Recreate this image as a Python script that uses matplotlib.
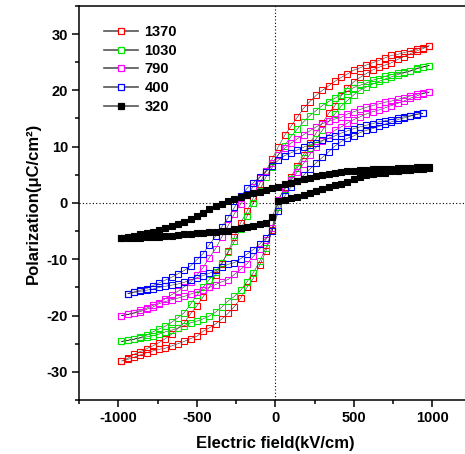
import matplotlib
matplotlib.use("Agg")
import matplotlib.pyplot as plt
from matplotlib.lines import Line2D
from matplotlib.ticker import MultipleLocator

plt.rcParams['font.family'] = ['Liberation Sans', 'DejaVu Sans']
plt.rcParams['font.weight'] = 'bold'
plt.rcParams['axes.unicode_minus'] = False

# -----------------------------
# DATA
# -----------------------------

# field points (kV/cm), same for each branch
e_field = [-980, -940, -900, -860, -820, -780, -740, -700, -660, -620,
           -580, -540, -500, -460, -420, -380, -340, -300, -260, -220,
           -180, -140, -100, -60, -20, 20, 60, 100, 140, 180,
           220, 260, 300, 340, 380, 420, 460, 500, 540, 580,
           620, 660, 700, 740, 780, 820, 860, 900, 940, 980]

labels = ["1370", "1030", "790", "400", "320"]
colors = ["#ff0000", "#00e600", "#ff00ff", "#0000ff", "#000000"]

# upper branch (field coming down), listed from -E to +E
p_up_1370 = [-28.1, -27.6, -26.9, -26.4, -25.9, -25.4, -24.8, -24.1, -23.3, -22.3,
             -21.3, -19.7, -18.3, -16.7, -15.0, -12.8, -10.8, -8.6, -6.0, -3.5,
             -1.5, 0.9, 3.4, 5.6, 7.8, 10.0, 12.0, 13.6, 15.2, 16.8,
             18.0, 19.1, 20.0, 20.8, 21.6, 22.3, 22.9, 23.6, 24.0, 24.5,
             24.9, 25.3, 25.8, 26.2, 26.4, 26.7, 27.0, 27.3, 27.6, 27.9]
# lower branch (field going up)
p_low_1370 = [-28.1, -27.8, -27.4, -27.0, -26.6, -26.3, -26.0, -25.8, -25.4, -25.0,
              -24.6, -24.1, -23.7, -22.8, -22.2, -21.5, -20.6, -19.6, -18.4, -16.9,
              -15.0, -13.4, -11.1, -8.6, -4.8, 0.5, 2.8, 4.6, 6.6, 8.6,
              10.6, 12.4, 14.2, 15.9, 17.3, 19.0, 20.5, 21.5, 22.3, 23.0,
              23.6, 24.1, 24.5, 24.9, 25.5, 26.0, 26.5, 27.0, 27.4, 27.9]

p_up_1030 = [-24.6, -24.4, -24.2, -23.9, -23.5, -22.9, -22.4, -21.9, -21.2, -20.4,
             -19.5, -18.0, -16.4, -15.0, -13.6, -12.3, -10.6, -8.8, -6.8, -4.6,
             -2.4, 0.0, 2.2, 4.6, 6.3, 8.6, 10.2, 11.8, 13.1, 14.4,
             15.5, 16.4, 17.3, 18.0, 18.6, 19.2, 19.8, 20.5, 20.9, 21.3,
             21.8, 22.1, 22.5, 22.8, 23.0, 23.2, 23.5, 23.9, 24.2, 24.4]
p_low_1030 = [-24.6, -24.4, -24.2, -24.0, -23.8, -23.6, -23.3, -22.9, -22.6, -22.2,
              -21.8, -21.3, -21.0, -20.6, -20.1, -19.4, -18.5, -17.4, -16.6, -15.5,
              -14.0, -12.4, -10.4, -8.0, -5.0, -0.8, 2.4, 4.3, 6.2, 8.0,
              9.8, 11.4, 12.9, 14.5, 15.8, 17.2, 18.2, 19.2, 20.0, 20.6,
              21.1, 21.6, 22.0, 22.4, 22.8, 23.1, 23.4, 23.8, 24.1, 24.4]

p_up_790 = [-20.0, -19.8, -19.5, -19.1, -18.7, -18.2, -17.7, -17.0, -16.3, -15.7,
            -14.9, -14.1, -12.8, -11.5, -9.7, -8.1, -6.0, -4.0, -1.9, -0.2,
            1.4, 2.9, 4.5, 5.7, 7.1, 8.6, 9.7, 10.6, 11.4, 12.1,
            12.8, 13.5, 14.1, 14.5, 14.9, 15.2, 15.8, 16.2, 16.6, 17.0,
            17.3, 17.6, 17.9, 18.1, 18.4, 18.7, 19.0, 19.3, 19.5, 19.7]
p_low_790 = [-20.0, -19.8, -19.6, -19.3, -18.9, -18.5, -17.9, -17.5, -17.2, -16.9,
             -16.6, -16.2, -15.8, -15.4, -15.0, -14.5, -14.0, -13.6, -12.7, -11.8,
             -10.8, -9.5, -8.2, -6.5, -4.5, 0.6, 2.6, 4.0, 5.5, 7.0,
             8.6, 9.9, 11.0, 12.1, 12.9, 13.5, 14.2, 14.8, 15.3, 15.8,
             16.2, 16.5, 16.9, 17.3, 17.7, 18.1, 18.6, 19.0, 19.4, 19.7]

# the 400 loop stops one step short on both ends (-940 .. 940)
p_up_400 = [-16.1, -15.8, -15.5, -15.2, -14.7, -14.2, -13.7, -13.2, -12.6, -12.0,
            -11.2, -10.1, -9.0, -7.4, -5.9, -4.2, -2.6, -0.8, 1.2, 2.6,
            3.6, 4.6, 5.5, 6.6, 7.6, 8.4, 8.9, 9.4, 9.9, 10.3,
            10.7, 11.1, 11.5, 11.9, 12.4, 12.8, 13.2, 13.5, 13.8, 14.1,
            14.4, 14.6, 14.8, 15.1, 15.3, 15.5, 15.8, 15.9]
p_low_400 = [-16.1, -15.9, -15.7, -15.5, -15.3, -15.0, -14.8, -14.6, -14.4, -14.1,
             -13.7, -13.3, -12.9, -12.5, -12.0, -11.4, -10.9, -10.6, -9.9, -9.1,
             -8.3, -7.3, -6.3, -5.0, -1.5, 1.2, 2.8, 3.9, 4.9, 6.0,
             7.1, 8.1, 9.1, 10.1, 10.9, 11.5, 11.9, 12.5, 12.9, 13.2,
             13.6, 14.0, 14.4, 14.8, 15.1, 15.4, 15.7, 15.9]

p_up_320 = [-6.2, -6.0, -5.8, -5.6, -5.4, -5.1, -4.8, -4.5, -4.1, -3.7,
            -3.3, -2.8, -2.3, -1.7, -1.1, -0.6, -0.1, 0.3, 0.7, 1.1,
            1.4, 1.7, 2.0, 2.3, 2.6, 2.9, 3.3, 3.6, 3.9, 4.2,
            4.4, 4.7, 5.0, 5.2, 5.4, 5.5, 5.6, 5.7, 5.8, 5.9,
            5.95, 6.0, 6.05, 6.1, 6.15, 6.2, 6.25, 6.3, 6.3, 6.3]
p_low_320 = [-6.2, -6.2, -6.2, -6.2, -6.1, -6.0, -6.0, -5.9, -5.8, -5.7,
             -5.6, -5.5, -5.4, -5.3, -5.2, -5.1, -5.0, -4.9, -4.7, -4.5,
             -4.3, -4.1, -3.8, -3.5, -2.5, 0.4, 0.6, 0.8, 1.1, 1.4,
             1.7, 2.1, 2.5, 2.8, 3.1, 3.4, 3.8, 4.2, 4.6, 4.9,
             5.1, 5.3, 5.4, 5.6, 5.7, 5.8, 5.9, 6.0, 6.1, 6.2]

loops = [
    (e_field, p_up_1370, p_low_1370),
    (e_field, p_up_1030, p_low_1030),
    (e_field, p_up_790, p_low_790),
    (e_field[1:-1], p_up_400, p_low_400),
    (e_field, p_up_320, p_low_320),
]

# -----------------------------
# PLOT
# -----------------------------

fig = plt.figure(figsize=(4.65, 4.54), dpi=100)
# right spine sits just outside the picture in the reference
ax = fig.add_axes([0.170, 0.119, 0.844, 0.868])

ax.axvline(0, color='k', lw=0.8, linestyle=(0, (1, 2)), zorder=1)
ax.axhline(0, color='k', lw=0.8, linestyle=(0, (1, 2)), zorder=1)

handles = []
for (e, up, low), lab, col in zip(loops, labels, colors):
    e_loop = list(e[::-1]) + list(e)
    p_loop = list(up[::-1]) + list(low)
    filled = col == "#000000"
    ax.plot(e_loop, p_loop, color='#333333', lw=0.4,
            marker='s', markersize=4.8 if filled else 4.4,
            markerfacecolor=col if filled else 'none',
            markeredgecolor=col, markeredgewidth=0.8, zorder=2)
    handles.append(Line2D([], [], color='#555555', lw=1.2, marker='s',
                          markersize=5, markerfacecolor=col if filled else 'white',
                          markeredgecolor=col, markeredgewidth=0.9))

ax.set_xlim(-1250, 1250)
ax.set_ylim(-35, 35)
ax.xaxis.set_major_locator(MultipleLocator(500))
ax.xaxis.set_minor_locator(MultipleLocator(250))
ax.yaxis.set_major_locator(MultipleLocator(10))
ax.yaxis.set_minor_locator(MultipleLocator(5))
ax.tick_params(which='major', direction='out', length=5, width=1.1,
               labelsize=10.5, pad=3, top=False, right=False)
ax.tick_params(which='minor', direction='out', length=3, width=1.1,
               top=False, right=False)
for lbl in ax.get_xticklabels() + ax.get_yticklabels():
    lbl.set_fontweight('bold')
for sp in ax.spines.values():
    sp.set_linewidth(1.1)

ax.set_xlabel("Electric field(kV/cm)", fontsize=12, fontweight='bold', labelpad=8)
ax.set_ylabel("Polarization(μC/cm²)", fontsize=12, fontweight='bold', labelpad=4)

ax.legend(handles, labels, loc='upper left', bbox_to_anchor=(0.064, 0.952),
          frameon=False, borderaxespad=0, borderpad=0, handlelength=2.3,
          handletextpad=0.45, labelspacing=0.33, numpoints=1,
          prop={'size': 10.5, 'weight': 'bold'})

fig.savefig("out.png", dpi=100)
